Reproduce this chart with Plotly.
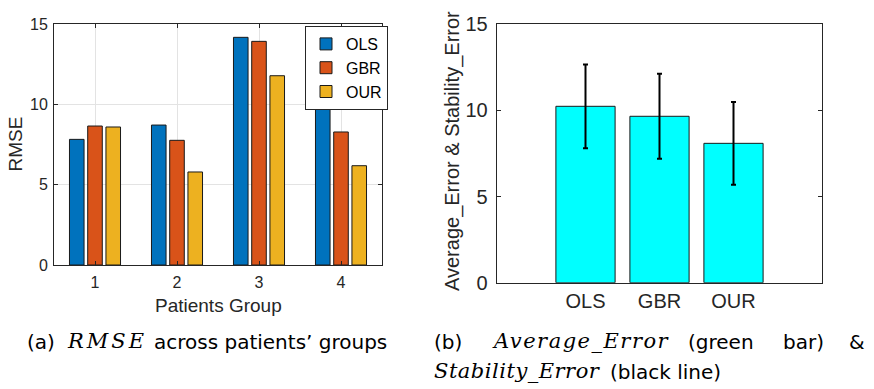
import plotly.graph_objects as go

# ---------------- data ----------------
groups = [1, 2, 3, 4]
group_labels = ["1", "2", "3", "4"]
ols_rmse = [7.82, 8.71, 14.17, 10.20]
gbr_rmse = [8.65, 7.76, 13.92, 8.28]
our_rmse = [8.59, 5.79, 11.78, 6.18]

methods = ["OLS", "GBR", "OUR"]
avg_error = [10.24, 9.66, 8.09]
stab_error = [2.43, 2.47, 2.40]

y_ticks = [0, 5, 10, 15]

# ---------------- helpers ----------------
W, H = 874, 389


def px(x):
    return x / W


def py(y):
    return 1 - y / H


AX = "#262626"
FONT = "Liberation Sans, Arial, sans-serif"

fig = go.Figure()

series = [("OLS", ols_rmse, "#0072BD"), ("GBR", gbr_rmse, "#D95319"), ("OUR", our_rmse, "#EDB120")]
for name, vals, col in series:
    fig.add_trace(go.Bar(
        x=groups, y=vals, name=name,
        marker=dict(color=col, line=dict(color="#1a1a1a", width=1)),
        xaxis="x", yaxis="y",
    ))

fig.add_trace(go.Bar(
    x=methods, y=avg_error, width=0.8, showlegend=False,
    marker=dict(color="#00FFFF", line=dict(color="#1a1a1a", width=1)),
    error_y=dict(type="data", array=stab_error, color="black", thickness=2, width=2.5),
    xaxis="x2", yaxis="y2",
))

axis_common = dict(showline=True, linecolor=AX, linewidth=1, mirror="ticks",
                   ticks="inside", ticklen=4, tickcolor=AX, zeroline=False, automargin=False)

fig.update_layout(
    width=W, height=H,
    margin=dict(l=0, r=0, t=0, b=0, autoexpand=False),
    paper_bgcolor="white", plot_bgcolor="white",
    barmode="group", bargap=0.333, bargroupgap=0.2,
    font=dict(family=FONT, color=AX),
    xaxis=dict(domain=[px(54), px(382)], range=[0.5, 4.5], tickvals=groups, ticktext=group_labels,
               showgrid=True, gridcolor="#e3e3e3", tickfont=dict(size=16, color=AX),
               ticklabelstandoff=3, anchor="y", **axis_common),
    yaxis=dict(domain=[py(265), py(24)], range=[0, 15], tickvals=y_ticks,
               showgrid=True, gridcolor="#e3e3e3", tickfont=dict(size=16, color=AX),
               ticklabelstandoff=2, anchor="x", **axis_common),
    xaxis2=dict(domain=[px(496.7), px(822.3)], type="category", range=[-1.2, 3.2],
                showline=True, linecolor=AX, linewidth=1, mirror=True, ticks="",
                showgrid=False, zeroline=False, tickfont=dict(size=20, color=AX),
                ticklabelstandoff=0, anchor="y2", automargin=False),
    yaxis2=dict(domain=[py(282.7), py(24.3)], range=[0, 15], tickvals=y_ticks,
                showgrid=False, tickfont=dict(size=20, color=AX),
                ticklabelstandoff=4, anchor="x2", **axis_common),
    legend=dict(x=px(305), y=py(26), xanchor="left", yanchor="top",
                bgcolor="white", bordercolor=AX, borderwidth=1,
                font=dict(size=16, color="black", family=FONT),
                tracegroupgap=0, itemwidth=30),
)

ann = []
# axis titles
ann.append(dict(text="RMSE", x=px(15), y=py(144.5), textangle=-90, font=dict(size=19, color=AX)))
ann.append(dict(text="Patients Group", x=px(218), y=py(305), font=dict(size=19, color=AX)))
ann.append(dict(text="Average_Error & Stability_Error", x=px(453), y=py(151), textangle=-90,
                font=dict(size=20, color=AX)))

SANS = "DejaVu Sans"
SERIF = "DejaVu Serif"
L1 = 342
L2 = 372
LM1 = 341
LM2 = 371


def cap(text, x, y, family=SANS, size=20, anchor="left"):
    ann.append(dict(text=text, x=px(x), y=py(y), xanchor=anchor,
                    font=dict(family=family, size=size, color="black")))


def mathtxt(word, ls):
    return "<i><span style='letter-spacing:%spx'>%s</span></i>" % (ls, word)


# caption (a)
cap("(a)", 25, L1)
cap(mathtxt("RMSE", 3), 65, LM1, SERIF, 21)
cap("across patients\u2019 groups", 152, L1)
# caption (b) line 1 (justified)
cap("(b)", 432, L1)
cap(mathtxt("Average_Error", 1.5), 490, LM1, SERIF, 21)
cap("(green", 686, L1)
cap("bar)", 781, L1)
cap("&amp;", 867, L1, anchor="right")
# caption (b) line 2
cap(mathtxt("Stability_Error", 0.5), 432, LM2, SERIF, 21)
cap("(black line)", 608, L2)

for a in ann:
    a.setdefault("xref", "paper")
    a.setdefault("yref", "paper")
    a.setdefault("showarrow", False)
    a.setdefault("yanchor", "middle")
    a.setdefault("xanchor", "center")
fig.update_layout(annotations=ann)

fig.write_html("out.html", config={"displayModeBar": False},
               post_script="document.body.style.margin='0px';")
